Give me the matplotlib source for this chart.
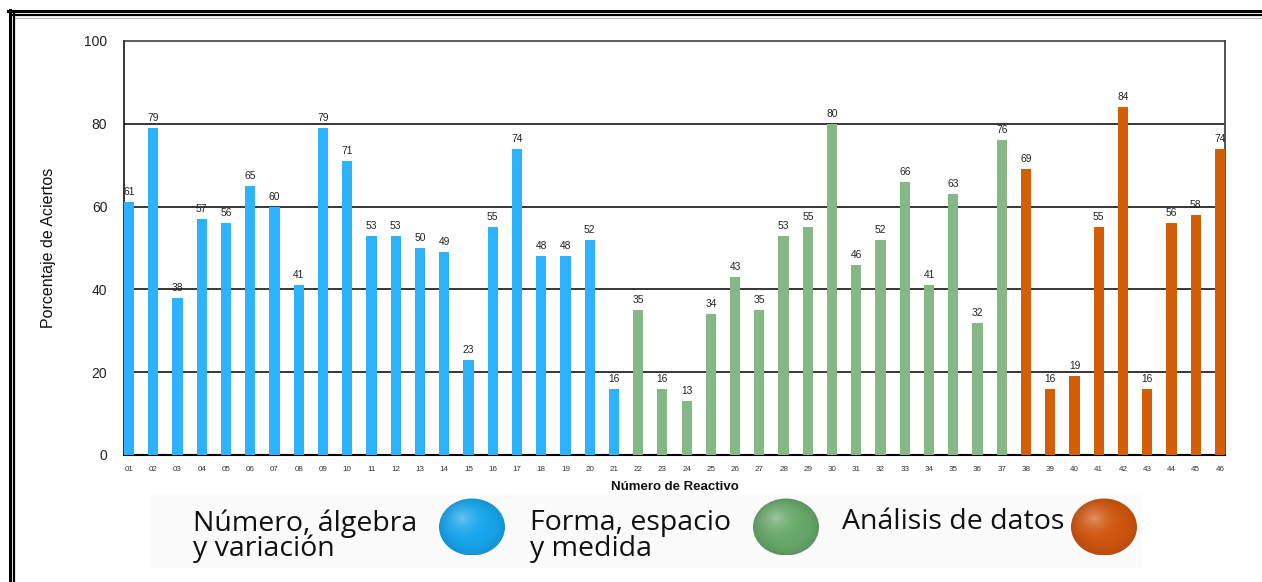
import matplotlib
matplotlib.use("Agg")
import matplotlib.pyplot as plt
import numpy as np
from matplotlib.patches import Ellipse, Rectangle
from matplotlib.lines import Line2D
from matplotlib.colors import to_rgb

# ---- data ----
reactivos = [f"{i:02d}" for i in range(1, 47)]
valores_numero = [61, 79, 38, 57, 56, 65, 60, 41, 79, 71, 53, 53, 50, 49, 23, 55, 74, 48, 48, 52, 16]
valores_forma = [35, 16, 13, 34, 43, 35, 53, 55, 80, 46, 52, 66, 41, 63, 32, 76]
valores_analisis = [69, 16, 19, 55, 84, 16, 56, 58, 74]
categorias = ["Número, álgebra\ny variación", "Forma, espacio\ny medida", "Análisis de datos"]
colores = ["#2DB3FE", "#86B787", "#D35E06"]
colores_esfera = ["#17A6EC", "#68A86A", "#D0560F"]
yticks = [0, 20, 40, 60, 80, 100]

W, H = 1262, 582
fig = plt.figure(figsize=(W / 100, H / 100), dpi=100)
fig.patch.set_facecolor("white")

ax = fig.add_axes([124 / W, (H - 455) / H, (1225 - 124) / W, (455 - 41) / H])

grupos = [valores_numero, valores_forma, valores_analisis]
pos = 0
for vals, col in zip(grupos, colores):
    xs = list(range(pos, pos + len(vals)))
    ax.bar(xs, vals, width=0.42, color=col, zorder=3, linewidth=0)
    for x, v in zip(xs, vals):
        ax.text(x, v + 1.2, str(v), ha="center", va="bottom", fontsize=7.4,
                family="Liberation Sans", color="#222222", zorder=4)
    pos += len(vals)

ax.set_xlim(-0.21, len(reactivos) - 1 + 0.21)
ax.set_ylim(0, 100)
ax.set_yticks(yticks)
ax.set_yticklabels([str(t) for t in yticks], fontsize=10, family="Liberation Sans", color="#222222")
ax.set_xticks(range(len(reactivos)))
ax.set_xticklabels(reactivos, fontsize=5.8, family="Liberation Sans", color="#333333")
ax.tick_params(axis="both", length=0)
ax.tick_params(axis="y", pad=12)
ax.tick_params(axis="x", pad=8)
for t in yticks[1:-1]:
    ax.axhline(t, color="black", lw=1.1, zorder=1)
ax.spines["left"].set_color("black")
ax.spines["bottom"].set_color("black")
ax.spines["bottom"].set_linewidth(1.5)
ax.spines["left"].set_linewidth(1.1)
ax.spines["top"].set_color("#333333")
ax.spines["top"].set_linewidth(1.1)
ax.spines["right"].set_color("#444444")
ax.spines["right"].set_linewidth(1.3)

ax.set_ylabel("Porcentaje de Aciertos", fontsize=11.5, family="Liberation Sans", color="#111111", labelpad=20)
ax.set_xlabel("Número de Reactivo", fontsize=9.5, family="Liberation Sans", fontweight="bold",
              color="#111111", labelpad=6)

# ---- overlay: frame and legend ----
ov = fig.add_axes([0, 0, 1, 1], zorder=-1)
ov.set_xlim(0, W)
ov.set_ylim(H, 0)
ov.axis("off")

ov.add_patch(Rectangle((150, 495), 993, 73, facecolor="#fbfbfb", edgecolor="none"))

# double frame
ov.add_line(Line2D([8, W], [11.2, 11.2], color="black", lw=2.2))
ov.add_line(Line2D([12, W], [15.2, 15.2], color="black", lw=1.6))
ov.add_line(Line2D([15, W], [18, 18], color="#bbbbbb", lw=0.8))
ov.add_line(Line2D([9.8, 9.8], [10, H], color="black", lw=2.2))
ov.add_line(Line2D([13.8, 13.8], [14, H], color="black", lw=1.6))

ov2 = fig.add_axes([0, 0, 1, 1], zorder=5)
ov2.set_xlim(0, W)
ov2.set_ylim(H, 0)
ov2.axis("off")
ov2.patch.set_alpha(0)

texto_x = [193, 530, 842]
texto_y = [536, 536, 522]
circ_x = [472, 786, 1104]
cy, rw, rh = 527, 33, 28.5
n = 120
u, v = np.meshgrid(np.linspace(-1, 1, n), np.linspace(-1, 1, n))
r = np.sqrt(u ** 2 + v ** 2)
dh = np.sqrt((u + 0.3) ** 2 + (v + 0.3) ** 2)
hl = np.clip(1 - dh / 0.9, 0, 1) ** 2
edge = np.clip(r, 0, 1) ** 4
for tx, ty, cx, lab, col in zip(texto_x, texto_y, circ_x, categorias, colores_esfera):
    ov2.text(tx, ty, lab, fontsize=20.5, family="Open Sans", color="#111111",
             ha="left", va="center", linespacing=0.86)
    base = np.array(to_rgb(col))
    img = base[None, None, :] * (1 - 0.35 * hl[..., None]) + 0.35 * hl[..., None]
    img = img * (1 - 0.12 * edge[..., None])
    img = np.clip(img, 0, 1)
    e = Ellipse((cx, cy), 2 * rw, 2 * rh, facecolor="none", edgecolor="none")
    ov2.add_patch(e)
    im = ov2.imshow(img, extent=(cx - rw, cx + rw, cy + rh, cy - rh), origin="upper",
                    aspect="auto", interpolation="bilinear", zorder=6)
    im.set_clip_path(e)

ov2.set_xlim(0, W)
ov2.set_ylim(H, 0)

fig.savefig("out.png", dpi=100, facecolor="white")
